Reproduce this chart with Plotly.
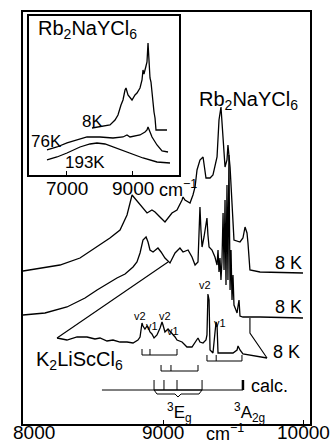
import plotly.graph_objects as go

# ---------------- main panel data (wavenumber cm-1, arbitrary intensity) -------------
rb_8k_x = [8000, 8264, 8407, 8529, 8621, 8693, 8743, 8779, 8807, 8836, 8886, 8921, 8943, 8964,
           9014, 9064, 9100, 9136, 9143, 9157, 9179, 9193, 9214, 9229, 9243, 9264, 9286, 9307,
           9336, 9357, 9386, 9400, 9414, 9429, 9443, 9457, 9464, 9479, 9493, 9507, 9550, 9571,
           9586, 9600, 9607, 9621, 9693, 10000]
rb_8k_y = [153, 159, 166, 177, 186, 194, 209, 229, 224, 219, 211, 214, 212, 209,
           202, 211, 214, 224, 227, 224, 222, 221, 229, 237, 254, 264, 267, 246,
           246, 249, 267, 304, 317, 281, 257, 264, 279, 257, 224, 184, 182, 186,
           197, 191, 181, 154, 152, 151]

mid_8k_x = [8000, 8157, 8314, 8443, 8529, 8600, 8671, 8729, 8786, 8814, 8836, 8857, 8879, 8893,
            8907, 8929, 8964, 8986, 9014, 9050, 9086, 9107, 9121, 9143, 9179, 9207, 9229, 9250,
            9257, 9264, 9271, 9279, 9293, 9314, 9321, 9329, 9350, 9371, 9386, 9393, 9400, 9407,
            9414, 9421, 9429, 9436, 9443, 9450, 9457, 9464, 9471, 9479, 9486, 9493, 9500, 9507,
            9521, 9529, 9536, 9543, 9550, 9571, 9693, 10000]
mid_8k_y = [109, 111, 117, 126, 134, 140, 146, 150, 157, 162, 171, 184, 187, 182,
            174, 172, 176, 172, 166, 161, 171, 174, 176, 172, 174, 167, 159, 162,
            184, 217, 194, 177, 187, 206, 189, 177, 174, 167, 159, 174, 152, 166,
            144, 162, 211, 154, 224, 139, 239, 144, 269, 134, 174, 124, 149, 119,
            114, 111, 118, 124, 108, 107, 107, 106]

k2_x = [8243, 8314, 8386, 8457, 8514, 8550, 8600, 8643, 8693, 8743, 8786, 8821, 8836, 8850,
        8857, 8871, 8886, 8893, 8907, 8921, 8936, 8957, 8979, 8993, 9000, 9014, 9036, 9050,
        9064, 9086, 9100, 9136, 9157, 9171, 9207, 9229, 9250, 9264, 9286, 9307, 9314, 9321,
        9329, 9336, 9357, 9371, 9379, 9386, 9393, 9421, 9500, 9529, 9536, 9550, 9571, 9743]
k2_y = [86, 84, 87, 87, 85, 86, 83, 84, 82, 82, 81, 84, 87, 101,
        98, 95, 98, 97, 92, 90, 86, 89, 96, 102, 99, 92, 95, 93,
        91, 87, 84, 82, 79, 77, 77, 81, 86, 82, 81, 84, 89, 130,
        124, 74, 71, 91, 102, 99, 71, 71, 71, 74, 78, 74, 70, 66]

conn_left_x = [8243, 9036]
conn_left_y = [86, 162]
conn_right_x = [9743, 9621, 9621]
conn_right_y = [66, 91, 106]

# assignment brackets: tick positions, base level, tick top level
brA_x, brA_lv = [8850, 8907, 9100], (69, 75)
brB_x, brB_lv = [8986, 9057, 9250], (53, 59)
brC_x, brC_lv = [9314, 9380, 9564], (63, 69)
calc_x, calc_lv = [8936, 9007, 9100, 9279], (34, 44)
calc_a2g = 9571
calc_line = [8564, 9571]
brace_x = [8936, 8957, 9086, 9107, 9129, 9257, 9279]
brace_y = [34, 30, 30, 27, 30, 30, 34]

main_ticks = [8000, 9000, 10000]
main_ticklabels = ["8000", "9000", "10000"]

# ---------------- inset data -------------
in_8k_x = [7758, 8000, 8303, 8455, 8545, 8636, 8697, 8758, 8788, 8848, 8909, 8970, 9061, 9121,
           9212, 9273, 9303, 9333, 9394, 9424, 9455, 9485, 9515, 9545, 9576, 9606, 9636, 9667,
           9697, 10030]
in_8k_y = [47, 48, 50, 55, 60, 70, 75, 85, 87, 80, 77, 75, 80, 82,
           87, 95, 105, 101, 109, 113, 132, 110, 97, 93, 80, 67, 63, 57,
           45, 45]
in_76k_x = [6394, 6697, 7000, 7303, 7606, 8000, 8394, 8697, 8818, 8909, 9061, 9212, 9364, 9424,
            9455, 9485, 9515, 9576, 9727, 9879, 10061]
in_76k_y = [25, 28, 32, 35, 38, 38, 37, 38, 40, 38, 39, 40, 43, 45,
            48, 45, 42, 38, 30, 24, 23]
in_193k_x = [6394, 6697, 7000, 7394, 7697, 7909, 8152, 8394, 8667, 8909, 9303, 9727, 10121]
in_193k_y = [15, 18, 22, 28, 31, 32, 31, 28, 25, 22, 17, 13, 12]
inset_ticks = [7000, 9000]
inset_ticklabels = ["7000", "9000"]

FONT = "Liberation Sans, Arial, sans-serif"
LW = 1.3
fig = go.Figure()


def line(x, y, xa="x", ya="y", w=LW):
    fig.add_trace(go.Scatter(x=x, y=y, mode="lines", xaxis=xa, yaxis=ya,
                             line=dict(color="black", width=w), hoverinfo="skip",
                             showlegend=False))


def bracket(xs, lv):
    bx = [min(xs), max(xs), None]
    by = [lv[0], lv[0], None]
    for v in xs:
        bx += [v, v, None]
        by += [lv[0], lv[1], None]
    line(bx, by, w=1.0)


line(rb_8k_x, rb_8k_y)
line(mid_8k_x, mid_8k_y)
line(k2_x, k2_y)
line(conn_left_x, conn_left_y, w=1.1)
line(conn_right_x, conn_right_y, w=1.1)
bracket(brA_x, brA_lv)
bracket(brB_x, brB_lv)
bracket(brC_x, brC_lv)
bracket(calc_x, calc_lv)
line(calc_line, [calc_lv[0], calc_lv[0]], w=1.0)
line([calc_a2g, calc_a2g], [calc_lv[0], calc_lv[1]], w=2.5)
line(brace_x, brace_y, w=1.0)

line(in_8k_x, in_8k_y, "x2", "y2")
line(in_76k_x, in_76k_y, "x2", "y2")
line(in_193k_x, in_193k_y, "x2", "y2")

ann = []


def txt(x, y, t, size, xref="x", yref="y", xanchor="center", xshift=0):
    ann.append(dict(x=x, y=y, xref=xref, yref=yref, text=t, showarrow=False,
                    xanchor=xanchor, yanchor="middle", xshift=xshift,
                    font=dict(family=FONT, size=size, color="black")))


txt(9614, 324, "Rb<sub>2</sub>NaYCl<sub>6</sub>", 20)
txt(9893, 161, "8 K", 18)
txt(9893, 117, "8 K", 18)
txt(9879, 72, "8 K", 18)
txt(8407, 64, "K<sub>2</sub>LiScCl<sub>6</sub>", 20)
txt(9760, 38, "calc.", 18)
txt(9121, 12, "<sup>3</sup>E<sub>g</sub>", 17)
txt(9621, 12, "<sup>3</sup>A<sub>2g</sub>", 17)
txt(8836, 108, "v2", 11)
txt(8921, 98, "v1", 11)
txt(9014, 108, "v2", 11)
txt(9071, 93, "v1", 11)
txt(9300, 139, "v2", 11)
txt(9405, 101, "v1", 11)
# main axis tick labels and unit (below the axis, in paper units)
for v, t in zip(main_ticks, main_ticklabels):
    txt(v, -0.0218, t, 19, yref="paper", xshift=11 if v == main_ticks[0] else 0)
txt(9443, -0.0218, "cm<sup>−1</sup>", 18, yref="paper")

txt(7636, 145, "Rb<sub>2</sub>NaYCl<sub>6</sub>", 20, "x2", "y2")
txt(7758, 53, "8K", 17, "x2", "y2")
txt(6394, 33, "76K", 17, "x2", "y2")
txt(7545, 12, "193K", 17, "x2", "y2")
# inset tick labels below inset frame (paper y, data x)
for v, t in zip(inset_ticks, inset_ticklabels):
    txt(v, 0.5704, t, 19, "x2", "paper")
txt(9720, 0.5704, "cm<sup>−1</sup>", 18, "x2", "paper", xanchor="left")

axis_common = dict(showgrid=False, zeroline=False, showline=True, mirror=True,
                   linecolor="black", linewidth=1.5, automargin=False)

fig.update_layout(
    width=332, height=445,
    margin=dict(l=23, r=22, t=12, b=21),
    paper_bgcolor="white", plot_bgcolor="white",
    font=dict(family=FONT, color="black"),
    xaxis=dict(range=[8000, 10050], tickvals=main_ticks, showticklabels=False,
               ticks="inside", ticklen=4, tickcolor="black",
               domain=[0, 1], **axis_common),
    yaxis=dict(range=[0, 412], showticklabels=False, ticks="", domain=[0, 1], **axis_common),
    xaxis2=dict(range=[5849, 10394], tickvals=inset_ticks, showticklabels=False,
                ticks="inside", ticklen=4, tickcolor="black", anchor="y2",
                domain=[0.0209, 0.5436], **axis_common),
    yaxis2=dict(range=[0, 159], showticklabels=False, ticks="", anchor="x2",
                domain=[0.6044, 0.9903], **axis_common),
    annotations=ann,
)

fig.write_html("out.html")
